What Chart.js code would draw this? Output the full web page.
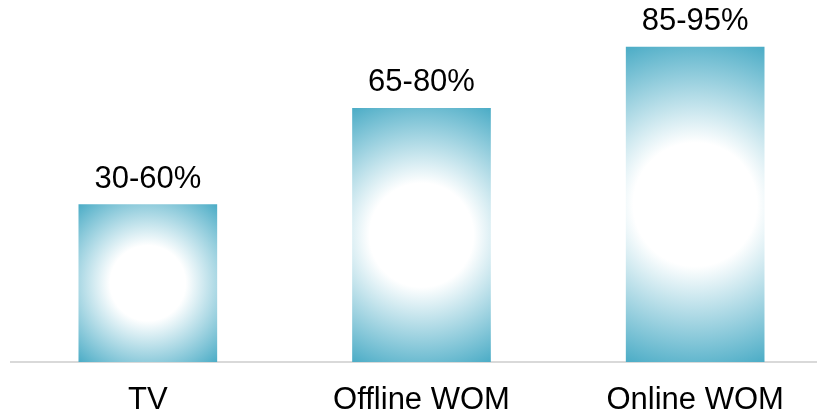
<!DOCTYPE html>
<html>
<head>
<meta charset="utf-8">
<script src="https://cdn.jsdelivr.net/npm/chart.js@4/dist/chart.umd.min.js"></script>
<style>
html,body{margin:0;padding:0;background:#fff;overflow:hidden;}
#wrap{width:832px;height:414px;}
</style>
</head>
<body>
<div id="wrap"><canvas id="c" width="832" height="414"></canvas></div>
<script>
const categories = ['TV', 'Offline WOM', 'Online WOM'];
const barValues = [45, 72.5, 90];
const valueLabels = ['30-60%', '65-80%', '85-95%'];

const FONT = '"Liberation Sans", Arial, Helvetica, sans-serif';
const EDGE = '#4BACC6';

function gradientFor(ctx) {
  const chart = ctx.chart;
  const xs = chart.scales.x, ys = chart.scales.y;
  if (!chart.chartArea || !xs || !ys) return EDGE;
  const i = ctx.dataIndex;
  const cx = xs.getPixelForValue(i);
  const top = ys.getPixelForValue(barValues[i]);
  const bottom = ys.getPixelForValue(0);
  const half = 69;
  const cy = (top + bottom) / 2;
  const r = Math.sqrt(half * half + ((bottom - top) / 2) ** 2);
  const g = chart.ctx.createRadialGradient(cx, cy, 0, cx, cy, r);
  g.addColorStop(0, '#ffffff');
  g.addColorStop(0.36, '#ffffff');
  g.addColorStop(1, EDGE);
  return g;
}

const labelPlugin = {
  id: 'valueLabels',
  afterDatasetsDraw(chart) {
    const c = chart.ctx;
    const meta = chart.getDatasetMeta(0);
    c.save();
    c.font = '31px ' + FONT;
    c.fillStyle = '#000';
    c.textAlign = 'center';
    c.textBaseline = 'alphabetic';
    meta.data.forEach((bar, i) => {
      c.fillText(valueLabels[i], bar.x, bar.y - 17);
    });
    c.restore();
  }
};

new Chart(document.getElementById('c'), {
  type: 'bar',
  data: {
    labels: categories,
    datasets: [{
      data: barValues,
      backgroundColor: gradientFor,
      borderWidth: 0,
      categoryPercentage: 1,
      barThickness: 138
    }]
  },
  options: {
    responsive: false,
    animation: false,
    devicePixelRatio: 1,
    layout: { padding: { left: 11, top: 12, right: 0, bottom: 0 } },
    plugins: { legend: { display: false }, tooltip: { enabled: false } },
    scales: {
      x: {
        grid: { display: false, drawTicks: false },
        border: { display: true, color: '#d9d9d9', width: 2 },
        ticks: { color: '#000', font: { family: FONT, size: 31 }, padding: 20 },
        afterFit(s) { s.height = 52; }
      },
      y: {
        display: false,
        min: 0,
        max: 100
      }
    }
  },
  plugins: [labelPlugin]
});
</script>
</body>
</html>
